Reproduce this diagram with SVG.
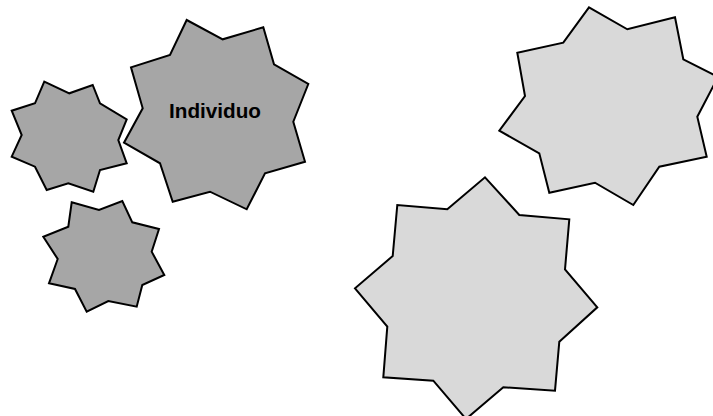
<svg xmlns="http://www.w3.org/2000/svg" width="713" height="416" viewBox="0 0 713 416">
<style>
.dark{fill:#a6a6a6;stroke:#000;stroke-width:2;stroke-linejoin:miter}
.light{fill:#d9d9d9;stroke:#000;stroke-width:2;stroke-linejoin:miter}
.lbl{font-family:"Liberation Sans",Arial,sans-serif;font-weight:bold;font-size:20.7px;fill:#000;text-anchor:middle}
</style>
<rect width="713" height="416" fill="#fff"/>
<g id="star1"><polygon class="dark" points="44.3,81.7 69.3,93.3 92.7,85 100,103.3 126.7,119.3 118.3,140 126.7,163.3 100,170 93.3,191.7 68.3,183.3 46.7,190 35,166.7 11.7,156.7 21.7,135 11.7,110.7 35,103.3"/></g>
<g id="star2"><polygon class="dark" points="186.7,20 222.7,39.3 263.3,27.3 274,64.3 308.3,84 293.3,121.7 305,161.7 265,173.3 246.7,209.3 210,191.7 172.7,201.7 160,163.3 124,142.7 142.7,108.3 131,67.3 170,55"/><text class="lbl" x="215" y="118">Individuo</text></g>
<g id="star3"><polygon class="dark" points="71.7,202.3 99,210 122.3,201 132.3,222.3 159,229 151.7,251.7 164.3,275 142.3,285 136.7,306.7 108.3,301 86.7,311.7 75,289 49,283.3 57.7,259 43.3,236.7 68.3,226.7"/></g>
<g id="star4"><polygon class="light" points="589,7.3 627.3,29.3 675,17.3 683.3,59.3 718,77 697.3,116.7 706.7,156.7 659.3,166.7 633.3,205 595,182.7 549.3,192.7 539.3,153.3 499.3,130.7 525,96 517.3,52.7 563.3,42.7"/></g>
<g id="star5"><polygon class="light" points="485,177.3 519.3,215 569.3,219.3 565,269.3 597.3,307.3 559.3,341.7 555,390.7 503.3,387.3 466,419 433.3,380.7 383.3,377.3 387.3,326.7 355,288.3 392.7,256 397.3,205 447.3,209.3"/></g>
<g id="connectors"></g>
</svg>
